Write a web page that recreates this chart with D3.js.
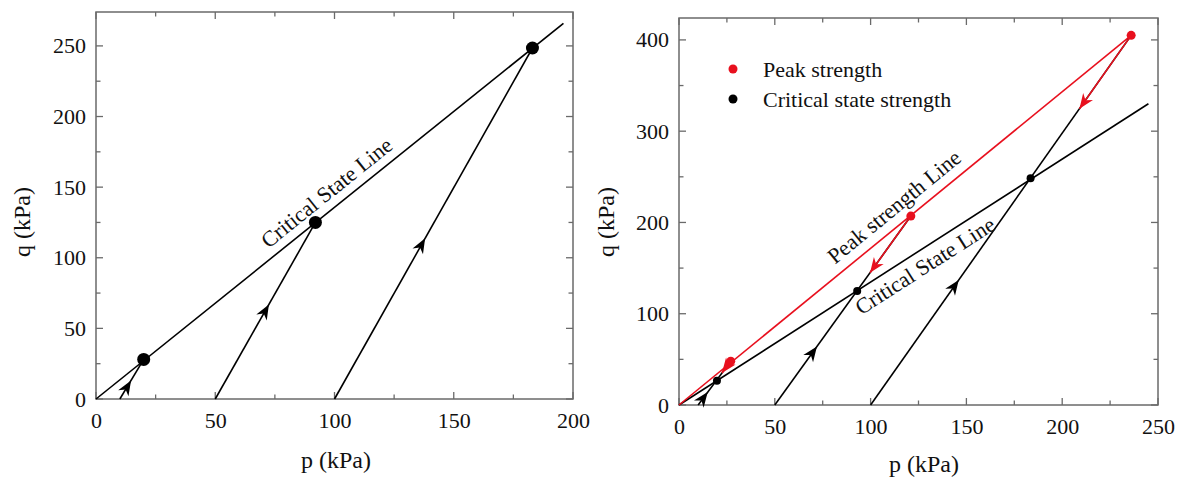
<!DOCTYPE html>
<html><head><meta charset="utf-8">
<script src="https://cdn.jsdelivr.net/npm/d3@7"></script>
<style>
body{margin:0;background:#fff;}
svg{display:block;font-family:"Liberation Serif","Times New Roman",serif;}
</style></head>
<body>
<svg id="c" width="1185" height="480"></svg>
<script>
// ---------- Data: left panel ----------
const leftXTicks = [0, 50, 100, 150, 200];
const leftYTicks = [0, 50, 100, 150, 200, 250];
const leftCSL = [[0, 0], [196, 266]];
const leftStartP = [10, 50, 100];
const leftCritical = [[20, 28], [92, 125], [183, 248.5]];
const leftArrowP = [14.7, 72.5, 138];

// ---------- Data: right panel ----------
const rightXTicks = [0, 50, 100, 150, 200, 250];
const rightYTicks = [0, 100, 200, 300, 400];
const rightCSL = [[0, 0], [245, 330]];
const rightPeakLine = [[0, 0], [236, 405]];
const rightStartP = [10, 50, 100];
const rightPeak = [[27, 48], [121, 207], [236, 405]];
const rightCritical = [[19.8, 26.5], [93, 125], [183.5, 248.5]];
const rightUpArrowP = [15, 72, 146];
const rightDownArrowP = [22.4, 99.7, 209];
const legendItems = [["Peak strength", "#e8101e"], ["Critical state strength", "#000"]];

const RED = "#e8101e";
const svg = d3.select("#c");

function frame(g, x, y, xTicks, yTicks, xMinorStep, yMinorStep) {
  const [x0, x1] = x.domain(), [y0, y1] = y.domain();
  const xr = x.range(), yr = y.range();
  const xMinor = d3.range(x0, x1 + 0.001, xMinorStep).filter(v => !xTicks.includes(v));
  const yMinor = d3.range(y0, y1 + 0.001, yMinorStep).filter(v => !yTicks.includes(v));
  const col = "#6a6a6a";
  g.append("rect").attr("x", xr[0]).attr("y", yr[1]).attr("width", xr[1] - xr[0]).attr("height", yr[0] - yr[1])
    .attr("fill", "none").attr("stroke", col).attr("stroke-width", 1.5);
  const tk = g.append("g").attr("stroke", col).attr("stroke-width", 1.3);
  const M = 7, m = 4.5;
  xTicks.forEach(v => {
    tk.append("line").attr("x1", x(v)).attr("x2", x(v)).attr("y1", yr[0]).attr("y2", yr[0] - M);
    tk.append("line").attr("x1", x(v)).attr("x2", x(v)).attr("y1", yr[1]).attr("y2", yr[1] + M);
  });
  xMinor.forEach(v => {
    tk.append("line").attr("x1", x(v)).attr("x2", x(v)).attr("y1", yr[0]).attr("y2", yr[0] - m);
    tk.append("line").attr("x1", x(v)).attr("x2", x(v)).attr("y1", yr[1]).attr("y2", yr[1] + m);
  });
  yTicks.forEach(v => {
    tk.append("line").attr("y1", y(v)).attr("y2", y(v)).attr("x1", xr[0]).attr("x2", xr[0] + M);
    tk.append("line").attr("y1", y(v)).attr("y2", y(v)).attr("x1", xr[1]).attr("x2", xr[1] - M);
  });
  yMinor.forEach(v => {
    tk.append("line").attr("y1", y(v)).attr("y2", y(v)).attr("x1", xr[0]).attr("x2", xr[0] + m);
    tk.append("line").attr("y1", y(v)).attr("y2", y(v)).attr("x1", xr[1]).attr("x2", xr[1] - m);
  });
  const ax = g.append("g").attr("transform", `translate(0,${yr[0]})`)
    .call(d3.axisBottom(x).tickValues(xTicks).tickSize(0).tickPadding(13).tickFormat(d3.format("d")));
  const ay = g.append("g").attr("transform", `translate(${xr[0]},0)`)
    .call(d3.axisLeft(y).tickValues(yTicks).tickSize(0).tickPadding(10).tickFormat(d3.format("d")));
  [ax, ay].forEach(a => {
    a.select(".domain").remove();
    a.selectAll("text").attr("font-size", 22).attr("fill", "#111").attr("font-family", "Liberation Serif");
  });
}

function line(g, x, y, pts, color, w) {
  g.append("path").attr("d", d3.line().x(d => x(d[0])).y(d => y(d[1]))(pts))
    .attr("fill", "none").attr("stroke", color).attr("stroke-width", w || 1.6);
}

function arrow(g, x, y, from, to, p, color) {
  const t = (p - from[0]) / (to[0] - from[0]);
  const q = from[1] + t * (to[1] - from[1]);
  const px = x(p), py = y(q);
  const ang = Math.atan2(y(to[1]) - y(from[1]), x(to[0]) - x(from[0])) * 180 / Math.PI;
  g.append("path").attr("d", "M0,0 L-15,-6 L-10.5,0 L-15,6 Z")
    .attr("transform", `translate(${px},${py}) rotate(${ang})`).attr("fill", color);
}

function lineLabel(g, x, y, pts, pAt, txt, off) {
  const slope = (pts[1][1] - pts[0][1]) / (pts[1][0] - pts[0][0]);
  const px = x(pAt), py = y(pAt * slope);
  const ang = Math.atan2(y(pts[1][1]) - y(pts[0][1]), x(pts[1][0]) - x(pts[0][0])) * 180 / Math.PI;
  g.append("text").attr("transform", `translate(${px},${py}) rotate(${ang})`)
    .attr("text-anchor", "middle").attr("dy", off).attr("font-size", 22).attr("fill", "#111").text(txt);
}

// ---------- Left panel ----------
{
  const x = d3.scaleLinear().domain([0, 200]).range([96, 573]);
  const y = d3.scaleLinear().domain([0, 274]).range([399, 12]);
  const g = svg.append("g");
  frame(g, x, y, leftXTicks, leftYTicks, 25, 25);
  line(g, x, y, leftCSL, "#000");
  leftStartP.forEach((p0, i) => {
    line(g, x, y, [[p0, 0], leftCritical[i]], "#000");
    arrow(g, x, y, [p0, 0], leftCritical[i], leftArrowP[i], "#000");
  });
  g.selectAll("circle.c").data(leftCritical).join("circle")
    .attr("cx", d => x(d[0])).attr("cy", d => y(d[1])).attr("r", 6.5).attr("fill", "#000");
  lineLabel(g, x, y, leftCSL, 101, "Critical State Line", -9);
  g.append("text").attr("x", 336).attr("y", 468).attr("text-anchor", "middle").attr("font-size", 24).attr("fill", "#111").text("p (kPa)");
  g.append("text").attr("transform", "translate(30,222) rotate(-90)").attr("text-anchor", "middle").attr("font-size", 24).attr("fill", "#111").text("q (kPa)");
}

// ---------- Right panel ----------
{
  const x = d3.scaleLinear().domain([0, 250]).range([679, 1158]);
  const y = d3.scaleLinear().domain([0, 424]).range([405, 18]);
  const g = svg.append("g");
  frame(g, x, y, rightXTicks, rightYTicks, 25, 50);
  line(g, x, y, rightCSL, "#000");
  line(g, x, y, rightPeakLine, RED);
  rightStartP.forEach((p0, i) => {
    line(g, x, y, [[p0, 0], rightPeak[i]], "#000");
    arrow(g, x, y, [p0, 0], rightPeak[i], rightUpArrowP[i], "#000");
    const pk = rightPeak[i];
    const t = (rightDownArrowP[i] - pk[0]) / (p0 - pk[0]);
    line(g, x, y, [pk, [rightDownArrowP[i], pk[1] + t * (0 - pk[1])]], RED);
    arrow(g, x, y, pk, [p0, 0], rightDownArrowP[i], RED);
  });
  g.selectAll("circle.k").data(rightCritical).join("circle")
    .attr("cx", d => x(d[0])).attr("cy", d => y(d[1])).attr("r", 4).attr("fill", "#000");
  g.selectAll("circle.r").data(rightPeak).join("circle")
    .attr("cx", d => x(d[0])).attr("cy", d => y(d[1])).attr("r", 4.5).attr("fill", RED);
  lineLabel(g, x, y, rightPeakLine, 118, "Peak strength Line", -10);
  lineLabel(g, x, y, rightCSL, 124, "Critical State Line", 23);
  legendItems.forEach((d, i) => {
    g.append("circle").attr("cx", 733).attr("cy", 69 + i * 30).attr("r", 4.5).attr("fill", d[1]);
    g.append("text").attr("x", 763).attr("y", 69 + i * 30).attr("dy", "0.35em").attr("font-size", 22).attr("fill", "#111").text(d[0]);
  });
  g.append("text").attr("x", 924).attr("y", 472).attr("text-anchor", "middle").attr("font-size", 24).attr("fill", "#111").text("p (kPa)");
  g.append("text").attr("transform", "translate(614,222) rotate(-90)").attr("text-anchor", "middle").attr("font-size", 24).attr("fill", "#111").text("q (kPa)");
}
</script>
</body></html>
